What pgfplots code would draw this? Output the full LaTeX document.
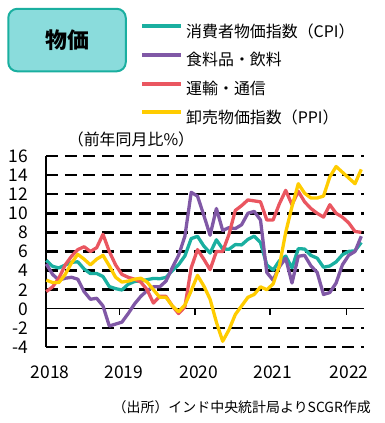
\documentclass[border=0pt]{standalone}
\usepackage{fontspec}
\setmainfont{Noto Sans CJK JP}
\usepackage{pgfplots}
\pgfplotsset{compat=1.18}
\usepackage{pgfplotstable}
\definecolor{cpic}{HTML}{1AAFA0}
\definecolor{foodc}{HTML}{8058A6}
\definecolor{transc}{HTML}{EA5660}
\definecolor{ppic}{HTML}{FFCC00}
\definecolor{boxfill}{HTML}{8ADCDC}

\pgfplotstableread{
i cpi food trans ppi
0 5.07 4.7 1.8 3.0
1 4.44 3.6 2.3 2.75
2 4.28 3.0 3.2 2.75
3 4.58 3.2 4.6 3.6
4 4.87 3.3 5.5 4.8
5 4.92 3.1 6.2 5.7
6 4.17 1.8 6.5 5.2
7 3.69 1.0 6.0 4.6
8 3.70 1.1 6.4 5.2
9 3.38 0.3 7.8 5.6
10 2.33 -1.8 6.0 4.5
11 2.11 -1.6 4.6 3.3
12 1.97 -1.4 3.6 2.8
13 2.57 -0.5 3.3 2.9
14 2.86 0.5 3.1 3.1
15 2.92 1.3 2.8 3.2
16 3.05 1.9 2.0 2.8
17 3.18 2.3 0.6 2.0
18 3.15 2.3 1.3 1.2
19 3.28 2.9 1.3 1.2
20 3.99 4.3 0.3 0.3
21 4.62 5.6 -0.5 -0.3
22 5.54 7.6 0.2 0.4
23 7.35 12.2 4.3 1.9
24 7.59 11.8 6.2 3.5
25 6.58 9.8 5.2 2.4
26 5.84 7.7 4.1 1.0
27 7.22 10.5 6.0 -1.4
28 6.27 8.2 6.0 -3.4
29 6.23 8.5 7.8 -2.2
30 6.73 8.4 10.3 -0.6
31 6.69 8.8 10.8 0.3
32 7.27 10.0 11.4 1.2
33 7.61 10.2 11.3 1.5
34 6.93 9.3 11.2 2.3
35 4.59 3.8 9.3 2.0
36 4.06 3.0 9.3 2.6
37 5.03 4.4 11.0 4.5
38 5.52 5.3 12.4 8.0
39 4.29 2.7 10.9 10.7
40 6.30 5.5 12.3 13.1
41 6.26 5.6 11.2 12.1
42 5.59 4.5 10.5 11.6
43 5.30 3.8 10.0 11.6
44 4.35 1.5 9.6 11.8
45 4.48 1.7 10.9 13.8
46 4.91 2.7 10.0 14.9
47 5.66 4.6 9.6 14.3
48 6.01 5.6 9.0 13.7
49 6.07 6.0 8.1 13.1
50 6.95 7.6 8.0 14.6
}\datatable

\begin{document}
\begin{tikzpicture}
\path[use as bounding box] (-46.3bp,-76bp) rectangle (338.7bp,347bp);
\begin{axis}[
  scale only axis, width=317.2bp, height=191bp,
  xmin=0, xmax=50.35, ymin=-4, ymax=16,
  axis line style={draw=none},
  major tick length=0pt,
  clip=false,
  xtick={0.59,12.3,24.2,35.98,48.05},
  xticklabels={2018,2019,2020,2021,2022},
  ytick={-4,-2,...,16},
  yticklabels={-4,-2,0,2,4,6,8,10,12,14,16},
  tick label style={font=\fontsize{17.5}{17.5}\selectfont},
  yticklabel style={anchor=east, inner sep=0pt, xshift=-18bp},
  xticklabel style={anchor=center, inner sep=0pt, yshift=-25.5bp},
  title={（前年同月比\%）},
  title style={at={(axis description cs:0.267,1.054)}, anchor=center, inner sep=0pt, font=\fontsize{16}{16}\selectfont},
  legend cell align=left,
  legend image code/.code={\draw[#1, line width=4bp, line cap=butt] (0bp,5bp) -- (39bp,5bp);},
  legend style={at={(axis description cs:0.2954,1.695)}, anchor=north west, draw=none, fill=none, inner sep=0pt, font=\fontsize{16}{16}\selectfont, row sep=13.8bp, nodes={inner sep=0pt}, column sep=3bp},
]
\pgfplotsinvokeforeach{-4,-2,2,4,6,8,10,12,14,16}{
  \draw[black, line width=2.6bp, dash pattern=on 12bp off 6.5bp] (axis cs:0,#1) -- (axis cs:50.35,#1);
}
\draw[black, line width=1.3bp] (axis cs:0,0) -- (axis cs:50.35,0);
\draw[black, line width=1.8bp] (axis cs:0,-4) -- (axis cs:0,16);
\pgfplotsinvokeforeach{11.6,23.6,35.5,47.6}{
  \draw[black, line width=1.3bp] (axis cs:#1,0) -- ++(0bp,-6.5bp);
}
\addplot[color=cpic, line width=3.3bp, line join=round] table[x=i, y=cpi] {\datatable};
\addlegendentry{消費者物価指数（CPI）}
\addplot[color=foodc, line width=3.3bp, line join=round] table[x=i, y=food] {\datatable};
\addlegendentry{食料品・飲料}
\addplot[color=transc, line width=3.3bp, line join=round] table[x=i, y=trans] {\datatable};
\addlegendentry{運輸・通信}
\addplot[color=ppic, line width=3.3bp, line join=round] table[x=i, y=ppi] {\datatable};
\addlegendentry{卸売物価指数（PPI）}
\node[draw=cpic, line width=2bp, fill=boxfill, rounded corners=9bp, minimum width=117.5bp, minimum height=62.5bp, font=\fontsize{22}{22}\selectfont\bfseries] at (axis description cs:0.0653,1.607) {物価};
\node[anchor=east, inner sep=0pt, font=\fontsize{14}{14}\selectfont] at (axis description cs:1.0237,-0.314) {（出所）インド中央統計局よりSCGR作成};
\end{axis}
\end{tikzpicture}
\end{document}
